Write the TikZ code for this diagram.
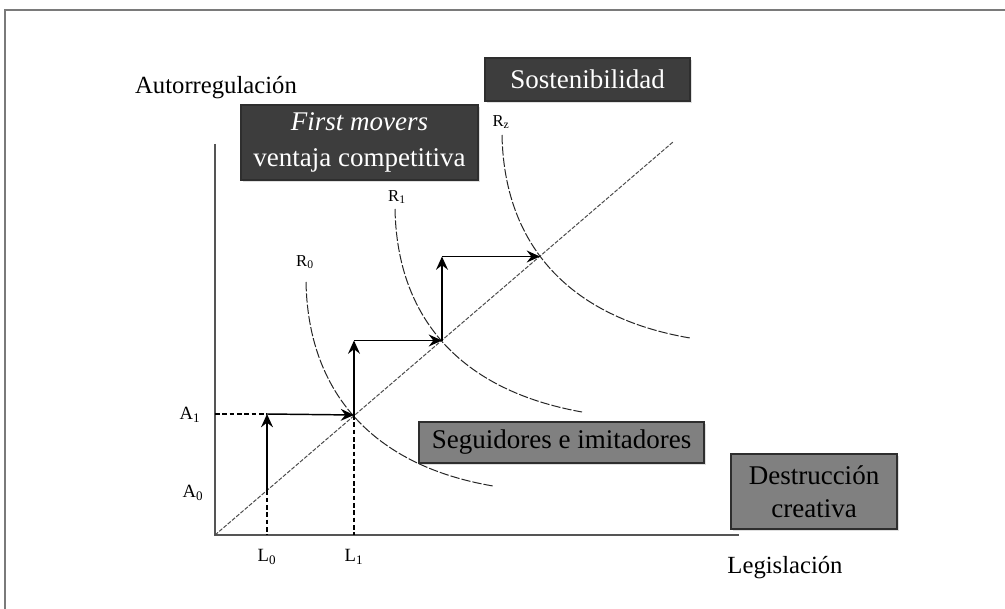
\documentclass[tikz,border=0pt]{standalone}
\usepackage{fontspec}
\setmainfont{Liberation Serif}
\usetikzlibrary{arrows.meta,shadows}
\definecolor{darkfill}{HTML}{3D3D3D}
\definecolor{grayfill}{HTML}{808080}
\definecolor{boxedge}{HTML}{2E2E2E}
\definecolor{axisgray}{HTML}{555555}
\definecolor{framegray}{HTML}{7A7A7A}
\begin{document}
\begin{tikzpicture}[x=0.75pt,y=-0.75pt,
  darkbox/.style={draw=boxedge,line width=0.8pt,fill=darkfill,text=white,inner sep=0pt,align=center,
    font=\fontsize{20.25}{27.5}\selectfont,
    drop shadow={shadow xshift=1.2pt,shadow yshift=-1.2pt,opacity=0.25}},
  graybox/.style={draw=boxedge,line width=1pt,fill=grayfill,text=black,inner sep=0pt,align=center,
    font=\fontsize{20.25}{24.75}\selectfont,
    drop shadow={shadow xshift=1.2pt,shadow yshift=-1.2pt,opacity=0.25}},
  axlabel/.style={inner sep=0pt,font=\fontsize{18.5}{22}\selectfont},
  ticklabel/.style={inner sep=0pt,font=\fontsize{14}{16}\selectfont},
  rlabel/.style={inner sep=0pt,font=\fontsize{12.5}{15}\selectfont},
  axis/.style={draw=axisgray,line width=1.4pt},
  curve/.style={draw=black!85,line width=0.75pt,dash pattern=on 7pt off 1.5pt},
  diag/.style={draw=black!70,line width=0.75pt,dash pattern=on 3pt off 1.2pt},
  arr/.style={draw=black,line width=1.1pt,-{Stealth[length=10pt,width=9pt,inset=3.5pt]}},
  guide/.style={draw=black,line width=1pt,dash pattern=on 3.5pt off 2pt},
  framestyle/.style={draw=framegray,line width=1.6pt}]
\useasboundingbox (0,0) rectangle (1005,609);
% outer frame (top and left edges visible)
\coordinate (fbl) at (5,609);
\coordinate (ftl) at (5,10);
\coordinate (ftr) at (1005,10);
\draw[framestyle] (fbl) -- (ftl) -- (ftr);

% axes
\coordinate (O) at (215,535);
\coordinate (Ytop) at (215,144);
\coordinate (Xend) at (739,535);
\draw[axis] (Ytop) -- (O) -- (Xend);

% diagonal
\coordinate (Dend) at (673,142);
\draw[diag] (O) -- (Dend);

% points on diagonal
\coordinate (Q0) at (267,490.4);
\coordinate (P1) at (354,415);
\coordinate (P2) at (442,340.5);
\coordinate (P3) at (540,256.5);
\coordinate (Lz) at (267,535);
\coordinate (Lo) at (354,535);
\coordinate (Ayax) at (215,414);
\coordinate (C0) at (267,414);
\coordinate (C1) at (354,340.5);
\coordinate (C2) at (442,256.5);

% curves
\draw[curve] (306,282) .. controls (308,390) and (370,465) .. (493,486);
\draw[curve] (395,209) .. controls (397,317) and (459,390) .. (582,412);
\draw[curve] (502,135) .. controls (504,243) and (567,317) .. (690,338);

% guides
\draw[guide] (Q0) -- (Lz);
\draw[guide] (P1) -- (Lo);
\draw[guide] (Ayax) -- (C0);

% arrows
\draw[arr] (Q0) -- (C0);
\draw[arr] (C0) -- (P1);
\draw[arr] (P1) -- (C1);
\draw[arr] (C1) -- (P2);
\draw[arr] (P2) -- (C2);
\draw[arr] (C2) -- (P3);

% labels
\node[axlabel] (ylab) at (216,88) {Autorregulación};
\node[axlabel] (xlab) at (785,568) {Legislación};
\node[ticklabel] (a1) at (190,415) {A\textsubscript{1}};
\node[ticklabel] (a0) at (193,493) {A\textsubscript{0}};
\node[ticklabel] (l0) at (267,557) {L\textsubscript{0}};
\node[ticklabel] (l1) at (354,557) {L\textsubscript{1}};
\node[rlabel] (r0) at (305,262) {R\textsubscript{0}};
\node[rlabel] (r1) at (397,197) {R\textsubscript{1}};
\node[rlabel] (rz) at (501,122) {R\textsubscript{z}};

% boxes
\node[darkbox,minimum width=205*0.75pt,minimum height=43*0.75pt] (sost) at (587.5,79.5) {Sostenibilidad};
\node[darkbox,minimum width=237*0.75pt,minimum height=75*0.75pt] (first) at (359.5,142.5) {\textit{First movers}\\ventaja competitiva};
\node[graybox,minimum width=285*0.75pt,minimum height=41*0.75pt] (seg) at (561.5,442.5) {Seguidores e imitadores};
\node[graybox,minimum width=166*0.75pt,minimum height=75*0.75pt] (dest) at (814,491.5) {Destrucción\\creativa};
\end{tikzpicture}
\end{document}
